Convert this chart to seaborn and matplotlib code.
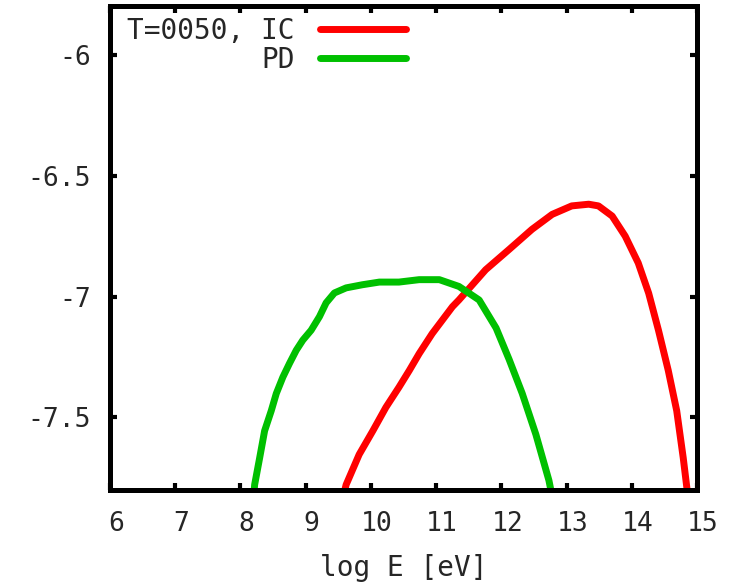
import numpy as np
import pandas as pd
import matplotlib
matplotlib.use("Agg")
import matplotlib.pyplot as plt
import matplotlib.transforms as mtransforms
import seaborn as sns

# ---- data ----
ic_x = [9.60, 9.62, 9.82, 10.03, 10.23, 10.43, 10.59, 10.74, 10.94, 11.25, 11.35, 11.76,
        12.12, 12.47, 12.78, 13.08, 13.34, 13.49, 13.70, 13.90, 14.10, 14.26, 14.41,
        14.56, 14.69, 14.79, 14.84, 14.85]
ic_y = [-7.80, -7.778, -7.653, -7.555, -7.458, -7.375, -7.305, -7.236, -7.153, -7.042, -7.014, -6.889,
        -6.805, -6.722, -6.660, -6.625, -6.618, -6.625, -6.667, -6.750, -6.861, -6.986, -7.139,
        -7.305, -7.472, -7.667, -7.778, -7.80]

pd_x = [8.21, 8.217, 8.294, 8.37, 8.472, 8.549, 8.65, 8.752, 8.855, 8.956, 9.084, 9.211,
        9.313, 9.44, 9.62, 9.87, 10.13, 10.43, 10.74, 11.05, 11.35, 11.66, 11.92, 12.12,
        12.32, 12.53, 12.73, 12.76]
pd_y = [-7.80, -7.778, -7.667, -7.555, -7.472, -7.401, -7.333, -7.276, -7.222, -7.180, -7.139, -7.083,
        -7.026, -6.985, -6.964, -6.951, -6.940, -6.940, -6.930, -6.930, -6.958, -7.014, -7.130, -7.260,
        -7.400, -7.570, -7.760, -7.80]

series_labels = ["T=0050, IC", "PD"]
series_colors = ["#ff0000", "#00c000"]
x_ticks = [6, 7, 8, 9, 10, 11, 12, 13, 14, 15]
y_ticks = [-7.5, -7, -6.5, -6]
y_tick_labels = ["-7.5", "-7", "-6.5", "-6"]
x_label = "log E [eV]"

df = pd.concat([
    pd.DataFrame({"x": ic_x, "y": ic_y, "series": series_labels[0]}),
    pd.DataFrame({"x": pd_x, "y": pd_y, "series": series_labels[1]}),
], ignore_index=True)

sns.set_style("white")
plt.rcParams["font.family"] = ["DejaVu Sans Mono", "DejaVu Sans"]

fig = plt.figure(figsize=(7.29, 5.82), dpi=100)
ax = fig.add_axes([0.151, 0.158, 0.805, 0.831])

sns.lineplot(data=df, x="x", y="y", hue="series", palette=series_colors,
             hue_order=series_labels, linewidth=5, sort=False, ax=ax,
             estimator=None)
for ln in ax.get_lines():
    ln.set_solid_joinstyle("round")

ax.set_xlim(6, 15)
ax.set_ylim(-7.8, -5.8)
ax.set_xticks(x_ticks)
ax.set_xticklabels([str(t) for t in x_ticks])
ax.set_yticks(y_ticks)
ax.set_yticklabels(y_tick_labels)
ax.set_xlabel(x_label, fontsize=20, labelpad=12)
ax.set_ylabel("")

for s in ax.spines.values():
    s.set_visible(True)
    s.set_linewidth(3.6)
    s.set_color("black")

ax.tick_params(axis="both", direction="in", length=5, width=3, color="black",
               labelsize=19, top=True, right=True, bottom=True, left=True)
ax.tick_params(axis="x", pad=15)
ax.tick_params(axis="y", pad=14)

offset = mtransforms.ScaledTranslation(6 / 100, 0, fig.dpi_scale_trans)
for lab in ax.get_xticklabels():
    lab.set_transform(lab.get_transform() + offset)

leg = ax.legend(loc="upper left", frameon=False, markerfirst=False, fontsize=20,
                handlelength=3.1, handletextpad=0.9, labelspacing=0.05,
                borderaxespad=0.0, borderpad=0.2, bbox_to_anchor=(0.02, 0.99))

fig.savefig("out.png", dpi=100)
